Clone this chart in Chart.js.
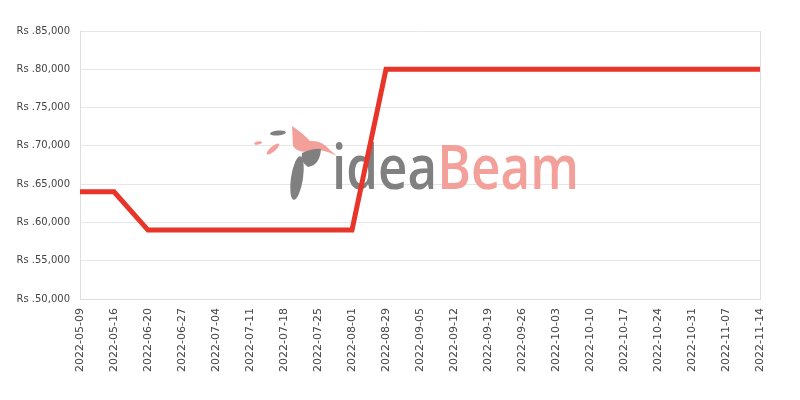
<!DOCTYPE html>
<html>
<head>
<meta charset="utf-8">
<script src="https://cdn.jsdelivr.net/npm/chart.js@4"></script>
<style>
  html, body { margin: 0; padding: 0; background: #fff; }
  #wrap { width: 800px; height: 400px; }
</style>
</head>
<body>
<div id="wrap"><canvas id="priceChart"></canvas></div>
<script>
// Data
const weeks = [
    '2022-05-09', '2022-05-16', '2022-06-20', '2022-06-27', '2022-07-04',
    '2022-07-11', '2022-07-18', '2022-07-25', '2022-08-01', '2022-08-29',
    '2022-09-05', '2022-09-12', '2022-09-19', '2022-09-26', '2022-10-03',
    '2022-10-10', '2022-10-17', '2022-10-24', '2022-10-31', '2022-11-07',
    '2022-11-14'
];
const prices = [
    64000, 64000, 59000, 59000, 59000,
    59000, 59000, 59000, 59000, 80000,
    80000, 80000, 80000, 80000, 80000,
    80000, 80000, 80000, 80000, 80000,
    80000
];
const yMin = 50000;
const yMax = 85000;
const yStep = 5000;

// Watermark logo drawn behind the line
const watermark = {
    id: 'watermark',
    beforeDatasetsDraw(chart) {
        const c = chart.ctx;
        c.save();

        // bird
        c.fillStyle = '#f4a09a';
        c.beginPath();
        c.moveTo(292, 126);
        c.quadraticCurveTo(304, 134, 310, 141);
        c.quadraticCurveTo(322, 140, 330, 150);
        c.lineTo(337, 156);
        c.quadraticCurveTo(322, 148, 312, 151);
        c.quadraticCurveTo(298, 154, 293, 146);
        c.closePath();
        c.fill();
        c.beginPath();
        c.ellipse(258, 143, 4, 1.5, -0.2, 0, Math.PI * 2);
        c.fill();
        c.beginPath();
        c.ellipse(273, 149, 8, 2.5, -0.7, 0, Math.PI * 2);
        c.fill();

        c.fillStyle = '#808080';
        c.beginPath();
        c.ellipse(278, 133, 8, 2.5, -0.1, 0, Math.PI * 2);
        c.fill();
        c.beginPath();
        c.moveTo(302, 153);
        c.quadraticCurveTo(314, 148, 321, 149);
        c.quadraticCurveTo(320, 165, 308, 167);
        c.quadraticCurveTo(300, 162, 302, 153);
        c.closePath();
        c.fill();
        c.beginPath();
        c.ellipse(297, 178, 6, 22, 0.15, 0, Math.PI * 2);
        c.fill();

        // text
        c.font = '600 62px "Open Sans"';
        const w1 = c.measureText('idea').width;
        const w2 = c.measureText('Beam').width;
        const sx = 247 / (w1 + w2);
        c.translate(332, 189);
        c.scale(sx, 1);
        c.textBaseline = 'alphabetic';
        c.fillStyle = '#808080';
        c.fillText('idea', 0, 0);
        c.fillStyle = '#f4a09a';
        c.fillText('Beam', w1, 0);
        c.restore();
    }
};

// Right edge of the frame
const frame = {
    id: 'frame',
    beforeDatasetsDraw(chart) {
        const a = chart.chartArea;
        const c = chart.ctx;
        c.save();
        c.strokeStyle = '#dddddd';
        c.lineWidth = 1;
        c.beginPath();
        c.moveTo(a.right + 0.5, a.top);
        c.lineTo(a.right + 0.5, a.bottom);
        c.stroke();
        c.restore();
    }
};

const ctx = document.getElementById('priceChart').getContext('2d');
const priceChart = new Chart(ctx, {
    type: 'line',
    data: {
        labels: weeks,
        datasets: [{
            data: prices,
            borderColor: '#e8352a',
            borderWidth: 5,
            pointRadius: 0,
            tension: 0,
            fill: false
        }]
    },
    options: {
        responsive: true,
        maintainAspectRatio: false,
        animation: false,
        layout: { padding: { top: 31, right: 40, left: 0, bottom: 0 } },
        plugins: {
            legend: { display: false },
            tooltip: { enabled: false }
        },
        scales: {
            x: {
                offset: false,
                grid: { display: false, drawTicks: false },
                border: { color: '#dddddd' },
                ticks: {
                    autoSkip: false,
                    minRotation: 90,
                    maxRotation: 90,
                    padding: 9,
                    color: '#444',
                    font: { family: 'DejaVu Sans', size: 11 }
                },
                afterFit(scale) { scale.height = 101; }
            },
            y: {
                min: yMin,
                max: yMax,
                grid: { color: '#e6e6e6', drawTicks: false },
                border: { color: '#dddddd' },
                ticks: {
                    stepSize: yStep,
                    padding: 10,
                    color: '#444',
                    font: { family: 'DejaVu Sans', size: 10 },
                    callback: function(value) {
                        return 'Rs .' + value.toLocaleString('en-US');
                    }
                },
                afterFit(scale) { scale.width = 80; }
            }
        }
    },
    plugins: [watermark, frame]
});
</script>
</body>
</html>
